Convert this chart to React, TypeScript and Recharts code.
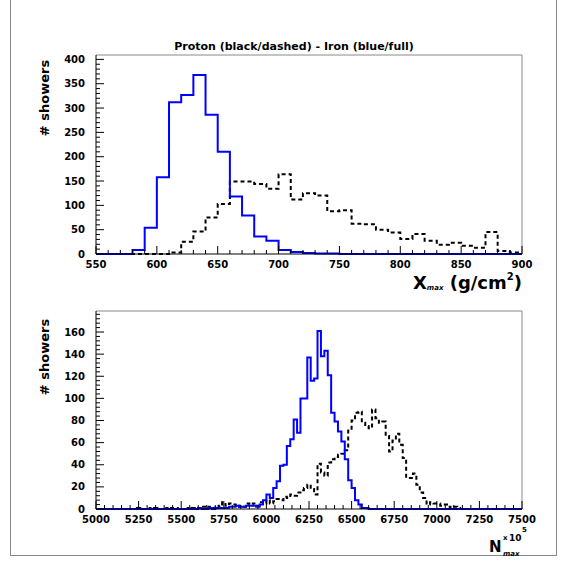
import React from "react";
import { LineChart, Line, XAxis, YAxis, ReferenceLine } from "recharts";

// top panel: Xmax histograms, 10 g/cm2 bins starting at 550
const XMAX_START = 550;
const XMAX_BIN = 10;
const xmaxIron = [
  0, 0, 0, 8, 54, 158, 312, 327, 368, 286,
  210, 118, 79, 36, 27, 8, 4, 2, 1, 1,
  0, 0, 0, 0, 0, 0, 0, 0, 0, 0,
  0, 0, 0, 0, 0,
];
const xmaxProton = [
  0, 0, 0, 0, 0, 0, 3, 25, 46, 75,
  103, 149, 149, 144, 134, 164, 112, 125, 120, 88,
  90, 62, 61, 50, 44, 31, 41, 27, 19, 23,
  17, 13, 45, 6, 3,
];

// bottom panel: Nmax histograms, bins of 20 starting at 5000
const NMAX_START = 5000;
const NMAX_BIN = 20;
const nmaxIron = [
  0, 0, 0, 0, 0, 0, 0, 0, 0, 0, // 5000
  0, 0, 0, 0, 0, 0, 0, 0, 0, 0, // 5200
  0, 0, 0, 0, 0, 0, 0, 0, 0, 0, // 5400
  1, 0, 0, 1, 0, 1, 1, 1, 1, 2, // 5600
  2, 3, 2, 2, 3, 3, 3, 2, 4, 8, // 5800
  13, 10, 19, 25, 39, 40, 57, 63, 81, 69, // 6000
  100, 100, 137, 116, 118, 161, 138, 143, 121, 87, // 6200
  79, 70, 61, 45, 26, 19, 8, 4, 1, 1, // 6400
  0, 0, 0, 0, 0, 0, 0, 0, 0, 0, // 6600
  0, 0, 0, 0, 0, 0, 0, 0, 0, 0, // 6800
  0, 0, 0, 0, 0, 0, 0, 0, 0, 0, // 7000
  0, 0, 0, 0, 0, 0, 0, 0, 0, 0, // 7200
  0, 0, 0, 0, 0, // 7400
];
const nmaxProton = [
  0, 0, 0, 0, 0, 0, 0, 0, 0, 0, // 5000
  0, 0, 1, 0, 0, 1, 0, 1, 0, 0, // 5200
  1, 0, 1, 0, 1, 0, 1, 0, 1, 0, // 5400
  1, 2, 1, 2, 1, 3, 2, 6, 3, 5, // 5600
  4, 2, 3, 2, 5, 4, 5, 3, 6, 5, // 5800
  8, 5, 7, 9, 8, 11, 10, 13, 12, 15, // 6000
  17, 19, 22, 18, 13, 41, 33, 30, 42, 45, // 6200
  47, 49, 50, 53, 71, 80, 87, 88, 78, 75, // 6400
  73, 90, 82, 78, 79, 66, 52, 62, 68, 58, // 6600
  46, 28, 28, 32, 22, 15, 10, 4, 6, 5, // 6800
  5, 3, 4, 2, 1, 2, 0, 1, 0, 0, // 7000
  0, 0, 0, 0, 0, 0, 0, 0, 0, 0, // 7200
  0, 0, 0, 0, 0, // 7400
];

const TOP_X_MAJOR = [550, 600, 650, 700, 750, 800, 850, 900];
const TOP_Y_MAJOR = [0, 50, 100, 150, 200, 250, 300, 350, 400];
const BOT_X_MAJOR = [5000, 5250, 5500, 5750, 6000, 6250, 6500, 6750, 7000, 7250, 7500];
const BOT_Y_MAJOR = [0, 20, 40, 60, 80, 100, 120, 140, 160];

const FONT = "'DejaVu Sans', sans-serif";

function histRows(start: number, bin: number, iron: number[], proton: number[]) {
  const rows = iron.map((v, i) => ({ x: start + i * bin, iron: v, proton: proton[i] }));
  // closing edge so the last bin gets its full width
  rows.push({
    x: start + iron.length * bin,
    iron: iron[iron.length - 1],
    proton: proton[proton.length - 1],
  });
  return rows;
}

function steps(from: number, to: number, step: number) {
  const out: number[] = [];
  for (let v = from; v <= to + 1e-9; v += step) out.push(v);
  return out;
}

const XTick = (props: any) => {
  const { x, y, payload, majors } = props;
  const major = majors.includes(payload.value);
  return (
    <g>
      <line x1={x} y1={y} x2={x} y2={y - (major ? 8 : 4)} stroke="#000" />
      {major && (
        <text x={x} y={y + 14} textAnchor="middle" fontSize={10} fontWeight="bold" fontFamily={FONT} fill="#000">
          {payload.value}
        </text>
      )}
    </g>
  );
};

const YTick = (props: any) => {
  const { x, y, payload, majors } = props;
  const major = majors.includes(payload.value);
  return (
    <g>
      <line x1={x} y1={y} x2={x + (major ? 8 : 4)} y2={y} stroke="#000" />
      {major && (
        <text x={x - 11} y={y + 3.6} textAnchor="end" fontSize={10} fontWeight="bold" fontFamily={FONT} fill="#000">
          {payload.value}
        </text>
      )}
    </g>
  );
};

type PanelProps = {
  top: number;
  height: number;
  margin: { top: number; right: number; bottom: number; left: number };
  rows: { x: number; iron: number; proton: number }[];
  xDomain: [number, number];
  yMax: number;
  xTicks: number[];
  yTicks: number[];
  xMajor: number[];
  yMajor: number[];
};

function Panel(p: PanelProps) {
  return (
    <div style={{ position: "absolute", left: 0, top: p.top }}>
      <LineChart width={565} height={p.height} data={p.rows} margin={p.margin}>
        <XAxis
          type="number"
          dataKey="x"
          domain={p.xDomain}
          ticks={p.xTicks}
          interval={0}
          tickSize={0}
          tickMargin={0}
          tickLine={false}
          height={30}
          axisLine={{ stroke: "#000" }}
          tick={(t: any) => <XTick {...t} majors={p.xMajor} />}
        />
        <YAxis
          type="number"
          domain={[0, p.yMax]}
          ticks={p.yTicks}
          interval={0}
          tickSize={0}
          tickMargin={0}
          tickLine={false}
          width={40}
          axisLine={{ stroke: "#000" }}
          tick={(t: any) => <YTick {...t} majors={p.yMajor} />}
        />
        <ReferenceLine y={p.yMax} stroke="#888" />
        <ReferenceLine x={p.xDomain[1]} stroke="#888" />
        <Line
          type="stepAfter"
          dataKey="proton"
          stroke="#000"
          strokeWidth={2}
          strokeDasharray="4 3"
          dot={false}
          activeDot={false}
          isAnimationActive={false}
        />
        <Line
          type="stepAfter"
          dataKey="iron"
          stroke="#0000ff"
          strokeWidth={2}
          dot={false}
          activeDot={false}
          isAnimationActive={false}
        />
      </LineChart>
    </div>
  );
}

export default function App() {
  const topRows = histRows(XMAX_START, XMAX_BIN, xmaxIron, xmaxProton);
  const botRows = histRows(NMAX_START, NMAX_BIN, nmaxIron, nmaxProton);

  return (
    <div>
      <div
        style={{
          position: "absolute",
          left: 10,
          top: -1,
          width: 545,
          height: 555,
          border: "1px solid #888",
          pointerEvents: "none",
        }}
      />
      <Panel
        top={0}
        height={300}
        margin={{ top: 55, right: 43, bottom: 16, left: 56 }}
        rows={topRows}
        xDomain={[550, 900]}
        yMax={409}
        xTicks={steps(550, 900, 10)}
        yTicks={steps(0, 400, 10)}
        xMajor={TOP_X_MAJOR}
        yMajor={TOP_Y_MAJOR}
      />
      <Panel
        top={256}
        height={311}
        margin={{ top: 55, right: 43, bottom: 28, left: 56 }}
        rows={botRows}
        xDomain={[5000, 7500]}
        yMax={179}
        xTicks={steps(5000, 7500, 50)}
        yTicks={steps(0, 176, 4)}
        xMajor={BOT_X_MAJOR}
        yMajor={BOT_Y_MAJOR}
      />
      <svg
        width={565}
        height={567}
        style={{ position: "absolute", left: 0, top: 0, pointerEvents: "none" }}
        fontFamily={FONT}
        fontWeight="bold"
      >
        <text x={294} y={50} textAnchor="middle" fontSize={11}>
          Proton (black/dashed) - Iron (blue/full)
        </text>
        <text x={49} y={98} textAnchor="middle" fontSize={13} transform="rotate(-90 49 98)">
          # showers
        </text>
        <text x={49} y={357} textAnchor="middle" fontSize={13} transform="rotate(-90 49 357)">
          # showers
        </text>
        <text x={522} y={289} textAnchor="end" fontSize={18}>
          X
          <tspan fontSize={7} fontStyle="italic" dy={1}>
            max
          </tspan>
          <tspan dy={-1}> (g/cm</tspan>
          <tspan fontSize={10} dy={-9}>
            2
          </tspan>
          <tspan dy={9}>)</tspan>
        </text>
        <text x={489} y={552} fontSize={15}>
          N
        </text>
        <text x={503} y={556} fontSize={7} fontStyle="italic">
          max
        </text>
        <text x={503} y={540} fontSize={7}>
          x
        </text>
        <text x={509} y={541} fontSize={9}>
          10
        </text>
        <text x={522} y={532} fontSize={7}>
          5
        </text>
      </svg>
    </div>
  );
}
